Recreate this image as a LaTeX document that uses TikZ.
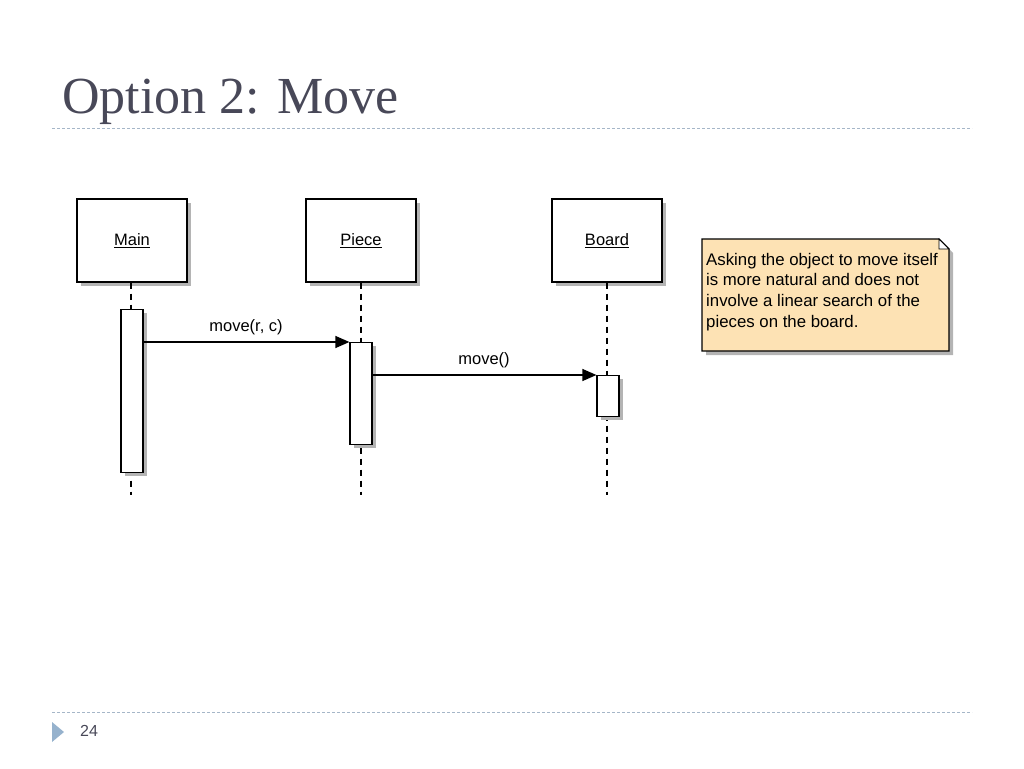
\documentclass[tikz,border=0pt]{standalone}
\usepackage{fontspec}
\setmainfont{Liberation Serif}
\setsansfont{Liberation Sans}
\usetikzlibrary{arrows.meta}
\definecolor{titlegray}{RGB}{72,72,88}
\definecolor{rulecol}{RGB}{165,182,200}
\definecolor{bullet}{RGB}{150,178,205}
\definecolor{notefill}{RGB}{253,226,180}
\definecolor{shadowgray}{RGB}{180,180,180}
\tikzset{
  lifebox/.style={draw=black, fill=white, line width=1.2pt, minimum width=110pt, minimum height=83pt, inner sep=0pt, font=\sffamily\fontsize{16.5}{18}\selectfont},
  actbox/.style={draw=black, fill=white, line width=1.2pt, minimum width=22pt, inner sep=0pt},
  lifeline/.style={line width=1.2pt, dash pattern=on 6pt off 5pt},
  msg/.style={line width=1.2pt, -{Triangle[length=14pt,width=12pt]}},
  msglabel/.style={font=\sffamily\fontsize{16.5}{18}\selectfont, inner sep=0pt},
  divider/.style={rulecol, line width=0.8pt, dash pattern=on 3pt off 2pt},
}
\begin{document}
\begin{tikzpicture}[x=1pt,y=-1pt]
\useasboundingbox (0,0) rectangle (1024,768);
% title
\node[anchor=base west, inner sep=0pt, text=titlegray, font=\fontsize{52}{58}\selectfont] (title) at (62,113) {Option 2: Move};
\coordinate (rtl) at (52,128); \coordinate (rtr) at (972,128);
\draw[divider] (rtl) -- (rtr);
\coordinate (rbl) at (52,712); \coordinate (rbr) at (972,712);
\draw[divider] (rbl) -- (rbr);
\fill[bullet] (52,722) -- (64,732) -- (52,742) -- cycle;
\node[anchor=west, inner sep=0pt, text=titlegray, font=\sffamily\fontsize{16}{20}\selectfont] (pagenum) at (80,731) {24};
% lifeline shadows
\foreach \x in {132,361,607}{
  \fill[shadowgray] (\x-55+4,199+4) rectangle (\x+55+4,282+4);
}
% lifelines
\coordinate (mainend) at (131,495);
\coordinate (pieceend) at (361,495);
\coordinate (boardend) at (607,495);
\node[lifebox] (main) at (132,240.5) {\underline{Main}};
\node[lifebox] (piece) at (361,240.5) {\underline{Piece}};
\node[lifebox] (board) at (607,240.5) {\underline{Board}};
\draw[lifeline] (main.south -| mainend) -- (mainend);
\draw[lifeline] (piece.south) -- (pieceend);
\draw[lifeline] (board.south) -- (boardend);
% activation shadows
\fill[shadowgray] (125,313) rectangle (147,476);
\fill[shadowgray] (354,346) rectangle (376,448);
\fill[shadowgray] (601,379) rectangle (623,420);
% activations
\node[actbox, minimum height=163pt, anchor=north] (mainact) at (132,309) {};
\node[actbox, minimum height=102pt, anchor=north] (pieceact) at (361,342) {};
\node[actbox, minimum height=41pt, anchor=north] (boardact) at (608,375) {};
% messages
\draw[msg] (mainact.east |- pieceact.north) -- (pieceact.north west);
\node[msglabel] (m1) at (246,327) {move(r, c)};
\draw[msg] (pieceact.east |- boardact.north) -- (boardact.north west);
\node[msglabel] (m2) at (484,360) {move()};
% note
\fill[shadowgray] (706,243) -- (943,243) -- (953,253) -- (953,355) -- (706,355) -- cycle;
\draw[fill=notefill, line width=1.2pt] (702,239) -- (939,239) -- (949,249) -- (949,351) -- (702,351) -- cycle;
\draw[line width=0.8pt, fill=white] (939,239) -- (939,249) -- (949,249) -- cycle;
\node[anchor=north west, inner sep=0pt, align=left, font=\sffamily\fontsize{16.8}{20.6}\selectfont] (note) at (706,253)
  {Asking the object to move itself\\is more natural and does not\\involve a linear search of the\\pieces on the board.};
\end{tikzpicture}
\end{document}
